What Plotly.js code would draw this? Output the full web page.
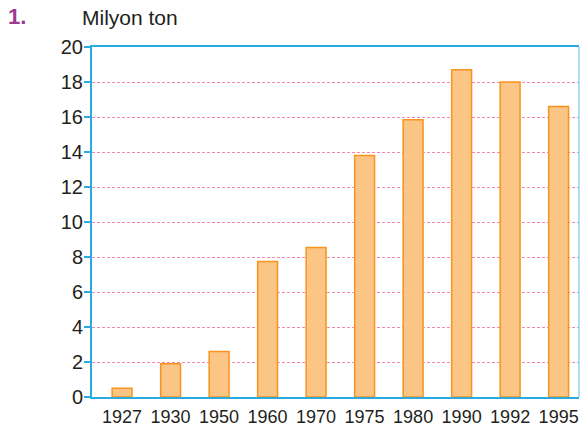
<!DOCTYPE html>
<html>
<head>
<meta charset="utf-8">
<script src="https://cdn.plot.ly/plotly-3.0.1.min.js"></script>
<style>html,body{margin:0;padding:0;background:#fff;}#chart{width:580px;height:428px;}</style>
</head>
<body>
<div id="chart"></div>
<script>
const years = ["1927","1930","1950","1960","1970","1975","1980","1990","1992","1995"];
const values = [0.5, 1.9, 2.6, 7.75, 8.55, 13.8, 15.85, 18.7, 18.0, 16.6];
const yTicks = [0,2,4,6,8,10,12,14,16,18,20];

const axisBlue = '#29ABE2';
const trace = {
  type: 'bar',
  x: years,
  y: values,
  width: 0.41,
  marker: {color: '#FBC585', line: {color: '#F7941D', width: 1.5}},
  hoverinfo: 'x+y'
};

const layout = {
  width: 580, height: 428,
  margin: {l: 92, r: 1, t: 47, b: 31, pad: 0},
  paper_bgcolor: '#fff', plot_bgcolor: '#fff',
  showlegend: false,
  font: {family: 'Liberation Sans, Arial, sans-serif', color: '#231F20'},
  xaxis: {
    type: 'category',
    range: [-0.62, 9.42],
    showline: true, linecolor: axisBlue, linewidth: 2, mirror: true,
    ticks: '', showgrid: false, zeroline: false,
    tickfont: {size: 18, color: '#231F20'},
    ticklabelstandoff: 2
  },
  yaxis: {
    range: [0, 20],
    tickvals: yTicks,
    showline: true, linecolor: axisBlue, linewidth: 2,
    ticks: 'outside', ticklen: 6, tickcolor: axisBlue, tickwidth: 1.5,
    showgrid: true, gridcolor: '#F287B7', gridwidth: 1, griddash: '3px,2px',
    zeroline: false,
    tickfont: {size: 20, color: '#231F20'},
    ticklabelstandoff: -3
  },
  shapes: [
    {type: 'line', xref: 'paper', yref: 'paper', x0: 1, x1: 1, y0: 0, y1: 1,
     line: {color: '#8FD4F0', width: 1.5}}
  ],
  annotations: [
    {text: '<b>1.</b>', xref: 'paper', yref: 'paper', x: -0.174, y: 1.088,
     xanchor: 'left', yanchor: 'middle', showarrow: false, borderpad: 0,
     font: {size: 22, color: '#9B3A8F', family: 'Liberation Sans, Arial, sans-serif'}},
    {text: 'Milyon ton', xref: 'paper', yref: 'paper', x: -0.024, y: 1.083,
     xanchor: 'left', yanchor: 'middle', showarrow: false,
     font: {size: 21, color: '#231F20', family: 'Liberation Sans, Arial, sans-serif'}}
  ]
};

Plotly.newPlot('chart', [trace], layout, {displayModeBar: false, staticPlot: true});
</script>
</body>
</html>
